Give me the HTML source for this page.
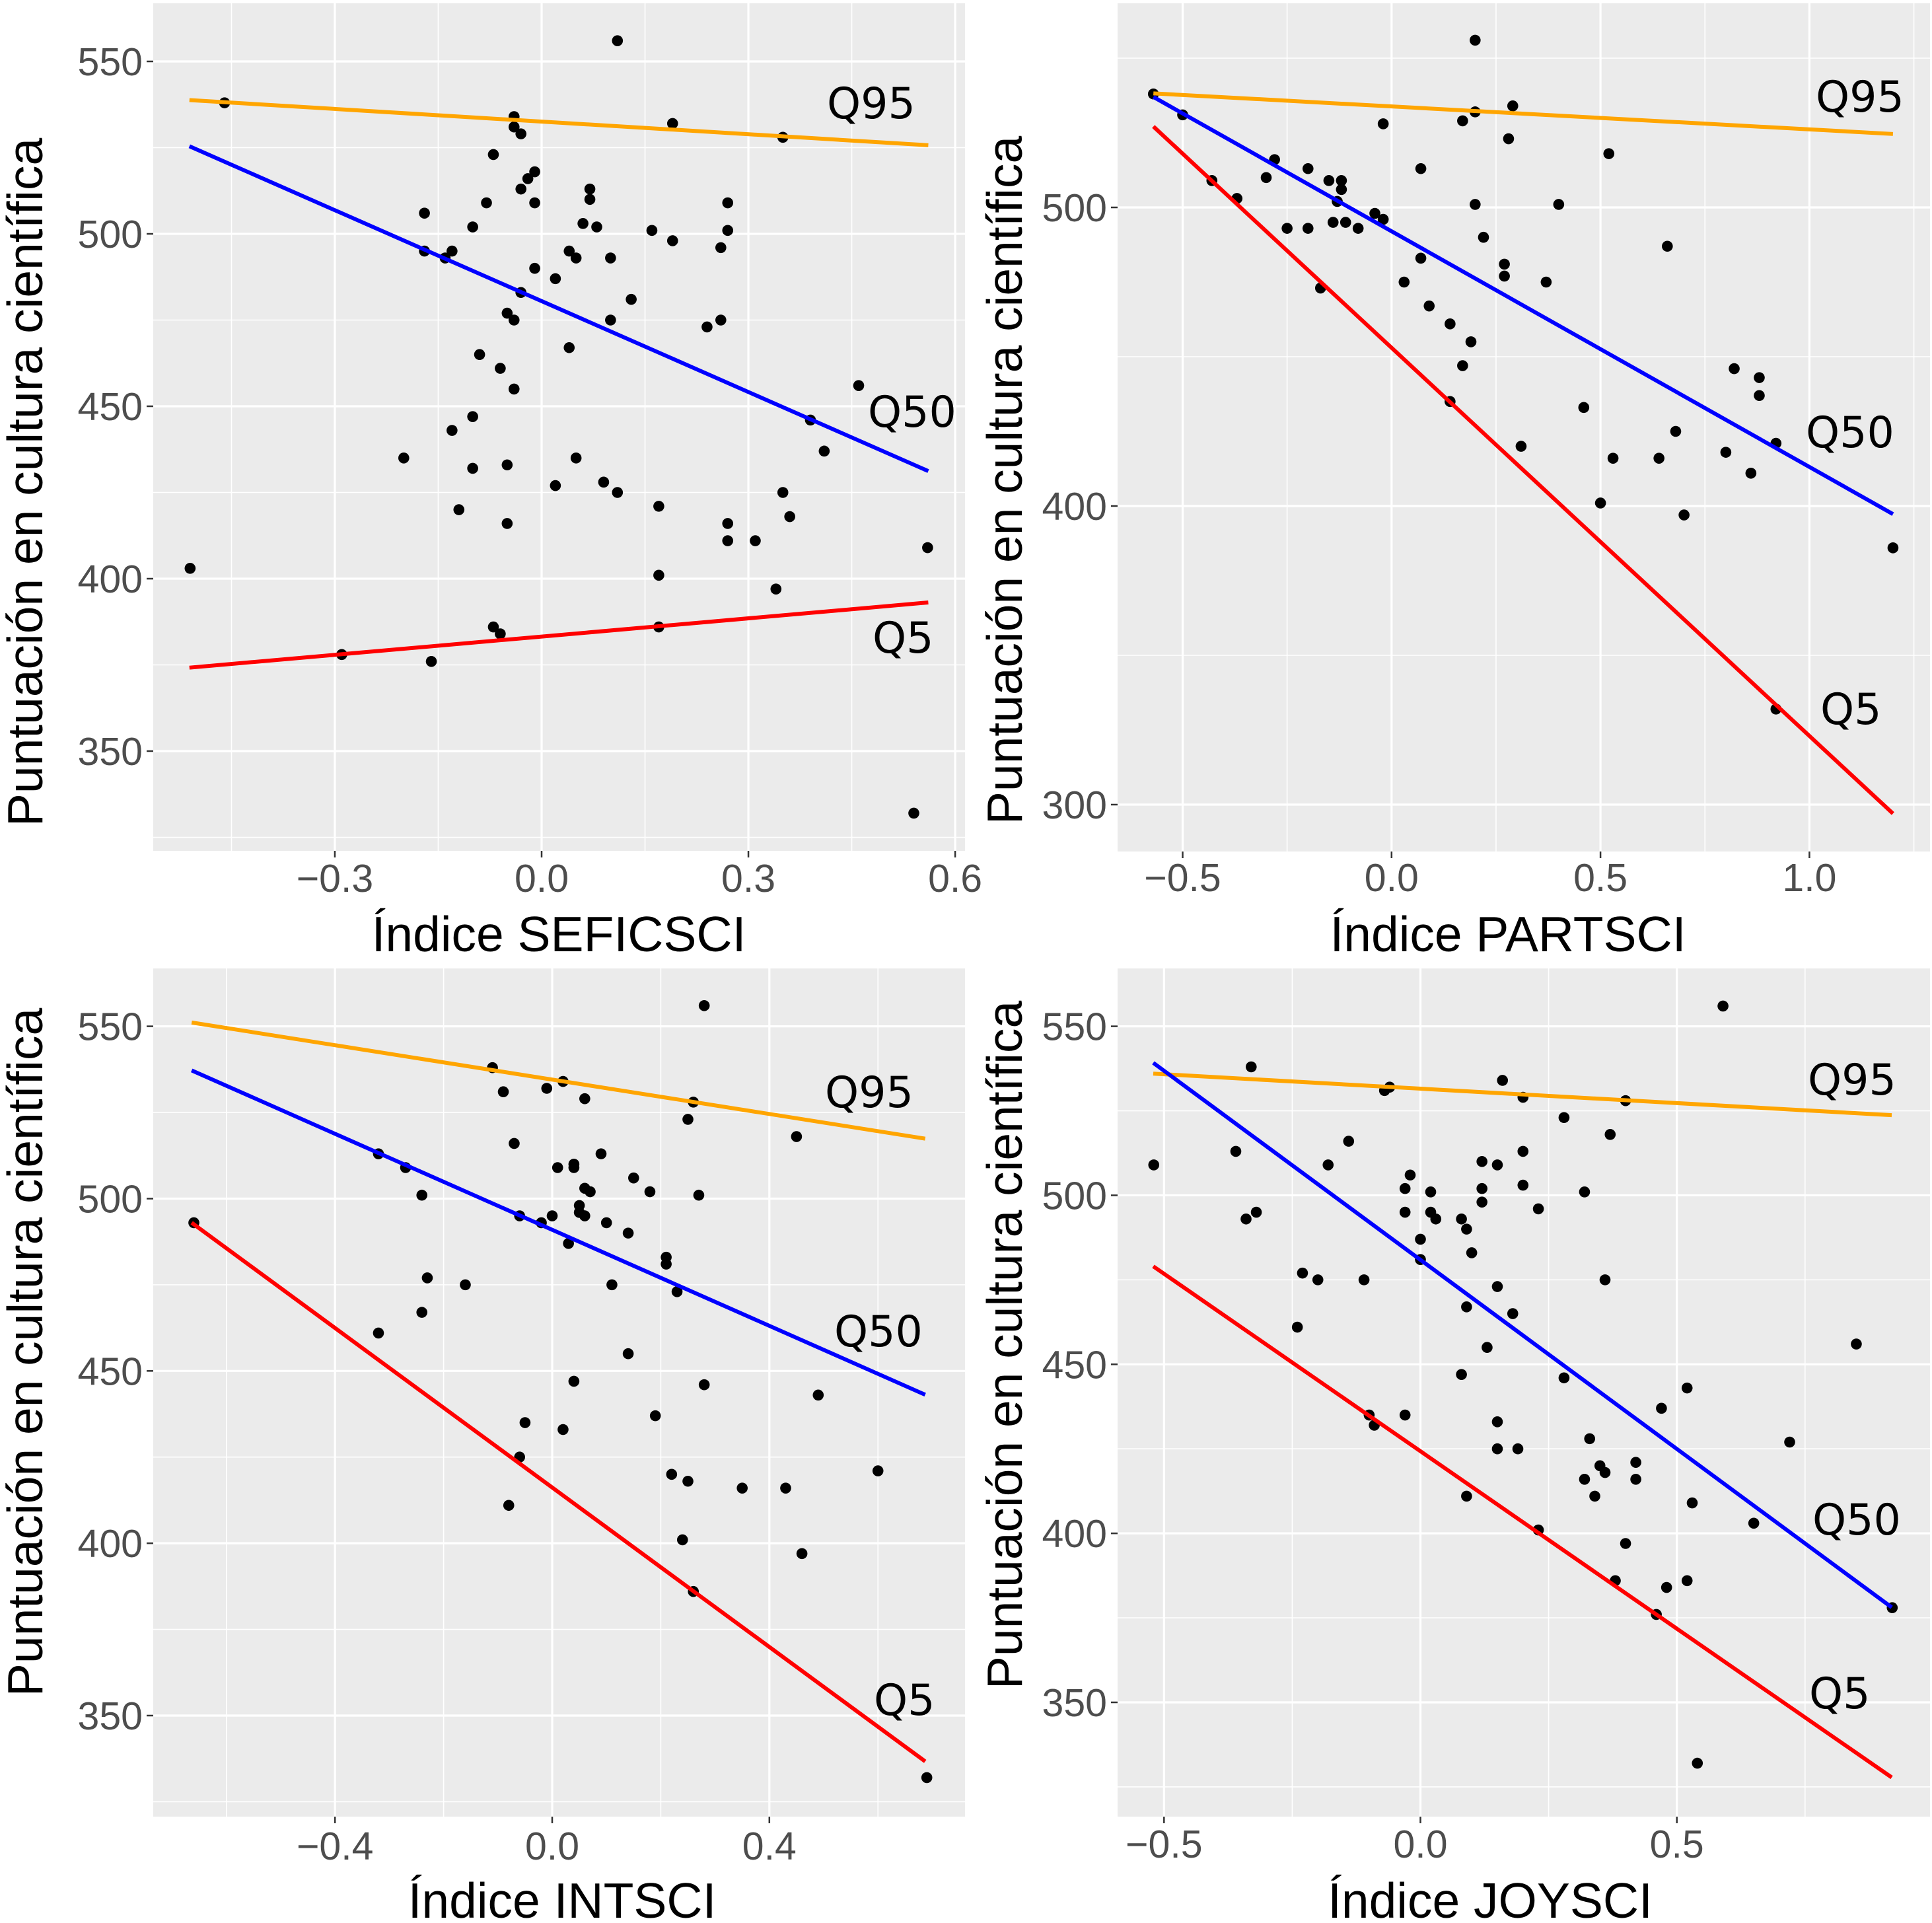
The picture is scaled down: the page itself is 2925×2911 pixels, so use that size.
<!DOCTYPE html>
<html><head><meta charset="utf-8"><style>
html,body{margin:0;padding:0;background:#fff;}
svg{display:block;}
</style></head><body>
<svg id="fig" xmlns="http://www.w3.org/2000/svg" width="2925" height="2911" viewBox="0 0 2925 2911"></svg>
<script>
// ---------- DATA ----------
const p1X = [0.11,-0.46,0.19,0.35,-0.04,-0.04,-0.03,-0.07,-0.01,-0.02,-0.03,0.07,0.07,-0.08,-0.01,0.27,-0.17,-0.10,0.06,0.08,0.16,0.27,0.19,0.26,-0.17,-0.13,-0.14,0.04,0.05,0.10,-0.01,0.02,-0.03,0.13,-0.05,-0.04,0.10,0.26,0.24,0.04,-0.09,-0.06,-0.04,0.46,0.39,-0.10,-0.13,-0.20,0.05,0.41,-0.10,-0.05,0.02,0.09,0.11,0.35,-0.12,0.17,0.36,-0.05,0.27,0.27,0.31,0.56,-0.51,0.17,0.34,-0.07,-0.06,0.17,-0.29,-0.16,0.54];
const p1Y = [556,538,532,528,534,531,529,523,518,516,513,513,510,509,509,509,506,502,503,502,501,501,498,496,495,495,493,495,493,493,490,487,483,481,477,475,475,475,473,467,465,461,455,456,446,447,443,435,435,437,432,433,427,428,425,425,420,421,418,416,416,411,411,409,403,401,397,386,384,386,378,376,332];
const p1LineX = [-0.511, 0.561];
const p1Q95 = [538.8, 525.7];
const p1Q50 = [525.4, 431.2];
const p1Q5 = [374.2, 393.1];

const p2X = [0.20,-0.57,-0.50,0.29,0.20,0.17,-0.02,0.28,0.52,-0.28,-0.20,0.07,-0.30,-0.43,-0.15,-0.12,-0.12,-0.37,-0.13,0.20,0.40,-0.04,-0.02,-0.25,-0.20,-0.14,-0.11,-0.08,0.22,0.66,0.07,0.27,0.27,0.03,0.37,-0.17,0.09,0.14,0.19,0.17,0.82,0.88,0.88,0.14,0.46,0.68,0.31,0.92,0.80,0.53,0.64,0.86,0.50,0.70,1.20,0.92];
const p2Y = [556,538,531,534,532,529,528,523,518,516,513,513,510,509,509,509,506,503,502,501,501,498,496,493,493,495,495,493,490,487,483,481,477,475,475,473,467,461,455,447,446,443,437,435,433,425,420,421,418,416,416,411,401,397,386,332];
const p2LineX = [-0.57, 1.20];
const p2Q95 = [538.2, 524.6];
const p2Q50 = [537.0, 397.3];
const p2Q5 = [527.1, 297.0];

const p3X = [0.28,-0.11,-0.09,-0.01,0.02,0.06,0.26,0.25,0.45,-0.07,-0.32,0.09,0.01,0.04,0.04,-0.27,0.15,0.06,0.07,0.18,-0.24,0.27,0.05,0.05,0.06,-0.06,0.00,-0.02,0.10,0.14,0.03,0.21,0.21,-0.23,-0.16,0.11,0.23,-0.24,-0.32,0.14,0.04,0.28,0.49,0.19,-0.05,0.02,-0.06,0.60,0.22,0.25,0.35,0.43,-0.08,0.24,0.46,0.26,-0.66,0.69];
const p3Y = [556,538,531,532,534,529,528,523,518,516,513,513,509,510,509,509,506,503,502,502,501,501,498,496,495,495,495,493,493,490,487,483,481,477,475,475,473,467,461,455,447,446,443,437,435,433,425,421,420,418,416,416,411,401,397,386,493,332];
const p3LineX = [-0.664, 0.687];
const p3Q95 = [551.1, 517.4];
const p3Q50 = [537.2, 443.1];
const p3Q5 = [493.0, 336.7];

const p4X = [0.59,-0.33,0.16,-0.07,-0.06,0.20,0.40,0.28,0.37,-0.14,-0.36,0.20,0.12,0.15,-0.52,-0.18,-0.02,0.20,-0.03,0.12,0.02,0.32,0.12,0.23,-0.32,-0.03,0.02,-0.34,0.03,0.08,0.09,0.00,0.10,0.00,-0.23,-0.20,-0.11,0.36,0.15,0.09,0.18,-0.24,0.13,0.85,0.08,0.28,0.52,0.47,-0.10,-0.03,-0.09,0.15,0.33,0.72,0.15,0.19,0.42,0.35,0.36,0.32,0.42,0.34,0.09,0.53,0.65,0.23,0.40,0.38,0.52,0.48,0.46,0.92,0.54];
const p4Y = [556,538,534,531,532,529,528,523,518,516,513,513,510,509,509,509,506,503,502,502,501,501,498,496,495,495,495,493,493,493,490,487,483,481,477,475,475,475,473,467,465,461,455,456,447,446,443,437,435,435,432,433,428,427,425,425,421,420,418,416,416,411,411,409,403,401,397,386,386,384,376,378,332];
const p4LineX = [-0.521, 0.919];
const p4Q95 = [536.0, 523.7];
const p4Q50 = [539.2, 378.1];
const p4Q5 = [479.0, 327.8];

const p1XTicks = [-0.3, 0.0, 0.3, 0.6];
const p1XTickLabels = ["\u22120.3","0.0","0.3","0.6"];
const p1YTicks = [350, 400, 450, 500, 550];
const p2XTicks = [-0.5, 0.0, 0.5, 1.0];
const p2XTickLabels = ["\u22120.5","0.0","0.5","1.0"];
const p2YTicks = [300, 400, 500];
const p3XTicks = [-0.4, 0.0, 0.4];
const p3XTickLabels = ["\u22120.4","0.0","0.4"];
const p3YTicks = [350, 400, 450, 500, 550];
const p4XTicks = [-0.5, 0.0, 0.5];
const p4XTickLabels = ["\u22120.5","0.0","0.5"];
const p4YTicks = [350, 400, 450, 500, 550];

// ---------- LAYOUT ----------
const NS = "http://www.w3.org/2000/svg";
const svg = document.getElementById('fig');
function mk(tag, attrs, parent){
  const e = document.createElementNS(NS, tag);
  for (const k in attrs) e.setAttribute(k, attrs[k]);
  (parent||svg).appendChild(e);
  return e;
}
const panels = [
  {id:'seficsci', title:'Índice SEFICSCI', X:p1X, Y:p1Y, LX:p1LineX, Q95:p1Q95, Q50:p1Q50, Q5:p1Q5,
   xt:p1XTicks, xtl:p1XTickLabels, yt:p1YTicks,
   rect:[232,5,1461,1288], x0:820, xs:1043.5, yRef:550, yRefPx:93, ys:5.22,
   xMinor:0.15, yMinor:25, xTickBase:1350, xTitle:[846,1440], yTitle:[64,730],
   qlab:[[1252,179],[1314,646],[1321,988]]},
  {id:'partsci', title:'Índice PARTSCI', X:p2X, Y:p2Y, LX:p2LineX, Q95:p2Q95, Q50:p2Q50, Q5:p2Q5,
   xt:p2XTicks, xtl:p2XTickLabels, yt:p2YTicks,
   rect:[1692,5,2922,1289], x0:2106.8, xs:632.6, yRef:500, yRefPx:314, ys:4.52,
   xMinor:0.25, yMinor:50, xTickBase:1349, xTitle:[2283,1440], yTitle:[1547,727],
   qlab:[[2749,169],[2734,677],[2756,1096]]},
  {id:'intsci', title:'Índice INTSCI', X:p3X, Y:p3Y, LX:p3LineX, Q95:p3Q95, Q50:p3Q50, Q5:p3Q5,
   xt:p3XTicks, xtl:p3XTickLabels, yt:p3YTicks,
   rect:[232,1466,1461,2750], x0:836, xs:822, yRef:550, yRefPx:1553.6, ys:5.217,
   xMinor:0.2, yMinor:25, xTickBase:2815, xTitle:[851,2903], yTitle:[64,2047],
   qlab:[[1249,1676],[1263,2038],[1323,2596]]},
  {id:'joysci', title:'Índice JOYSCI', X:p4X, Y:p4Y, LX:p4LineX, Q95:p4Q95, Q50:p4Q50, Q5:p4Q5,
   xt:p4XTicks, xtl:p4XTickLabels, yt:p4YTicks,
   rect:[1692,1466,2922,2750], x0:2150.5, xs:776.4, yRef:550, yRefPx:1553.6, ys:5.117,
   xMinor:0.25, yMinor:25, xTickBase:2812, xTitle:[2256,2903], yTitle:[1547,2036],
   qlab:[[2737,1657],[2744,2323],[2739,2586]]}
];

panels.forEach(P => {
  const g = mk('g', {});
  
  
  const sx = v => P.x0 + v * P.xs;
  const sy = v => P.yRefPx - (v - P.yRef) * P.ys;
  const [L,T,R,B] = P.rect;
  const bg = mk('rect', {x:L, y:T, width:R-L, height:B-T, fill:'#ebebeb'}, g);
  
  
  const vMin = P.yRef + (P.yRefPx - B) / P.ys, vMax = P.yRef + (P.yRefPx - T) / P.ys;
  for (let v = Math.ceil(vMin / P.yMinor) * P.yMinor; v <= vMax; v += P.yMinor) {
    const y = sy(v);
    const major = P.yt.includes(v);
    const ln = mk('line', {x1:L, x2:R, y1:y, y2:y, stroke:'#fff', 'stroke-width': major ? 3.2 : 1.6}, g);
    
    
  }
  const xvMin = (L - P.x0) / P.xs, xvMax = (R - P.x0) / P.xs;
  const step = P.xMinor;
  for (let k = Math.ceil(xvMin / step); k * step <= xvMax; k++) {
    const v = k * step;
    const x = sx(v);
    const major = P.xt.some(t => Math.abs(t - v) < 1e-6);
    const ln = mk('line', {x1:x, x2:x, y1:T, y2:B, stroke:'#fff', 'stroke-width': major ? 3.2 : 1.6}, g);
    
    
  }
  P.yt.forEach(v => {
    const y = sy(v);
    const tk = mk('line', {x1:L-10, x2:L, y1:y, y2:y, stroke:'#333', 'stroke-width':2.5}, g);
    
    
    const t = mk('text', {x:L-16, y:y+21, 'text-anchor':'end', 'font-family':'Liberation Sans, sans-serif', 'font-size':59, fill:'#4d4d4d'}, g);
    t.textContent = String(v);
    
    
  });
  P.xt.forEach((v, i) => {
    const x = sx(v);
    const tk = mk('line', {x1:x, x2:x, y1:B, y2:B+10, stroke:'#333', 'stroke-width':2.5}, g);
    
    
    const t = mk('text', {x:x, y:P.xTickBase, 'text-anchor':'middle', 'font-family':'Liberation Sans, sans-serif', 'font-size':59, fill:'#4d4d4d'}, g);
    t.textContent = P.xtl[i];
    
    
  });
  P.X.forEach((xv, i) => {
    const c = mk('circle', {cx:sx(xv), cy:sy(P.Y[i]), r:8.3, fill:'#000'}, g);
    
    
  });
  [['Q95', P.Q95, '#ffa500'], ['Q50', P.Q50, '#0000ff'], ['Q5', P.Q5, '#ff0000']].forEach(([nm, q, col]) => {
    const ln = mk('line', {x1:sx(P.LX[0]), y1:sy(q[0]), x2:sx(P.LX[1]), y2:sy(q[1]), stroke:col, 'stroke-width':6}, g);
    
    
  });
  ['Q95','Q50','Q5'].forEach((nm, i) => {
    const t = mk('text', {x:P.qlab[i][0], y:P.qlab[i][1], 'font-family':'DejaVu Sans, sans-serif', 'font-size':65, fill:'#000'}, g);
    t.textContent = nm;
    
    
  });
  const xt = mk('text', {x:P.xTitle[0], y:P.xTitle[1], 'text-anchor':'middle', 'font-family':'Liberation Sans, sans-serif', 'font-size':75, fill:'#000'}, g);
  xt.textContent = P.title;
  
  
  const yt = mk('text', {x:0, y:0, 'text-anchor':'middle', 'font-family':'Liberation Sans, sans-serif', 'font-size':75, fill:'#000',
    transform:'translate(' + P.yTitle[0] + ',' + P.yTitle[1] + ') rotate(-90)'}, g);
  yt.textContent = 'Puntuación en cultura científica';
  
  
});
</script>
</body></html>
